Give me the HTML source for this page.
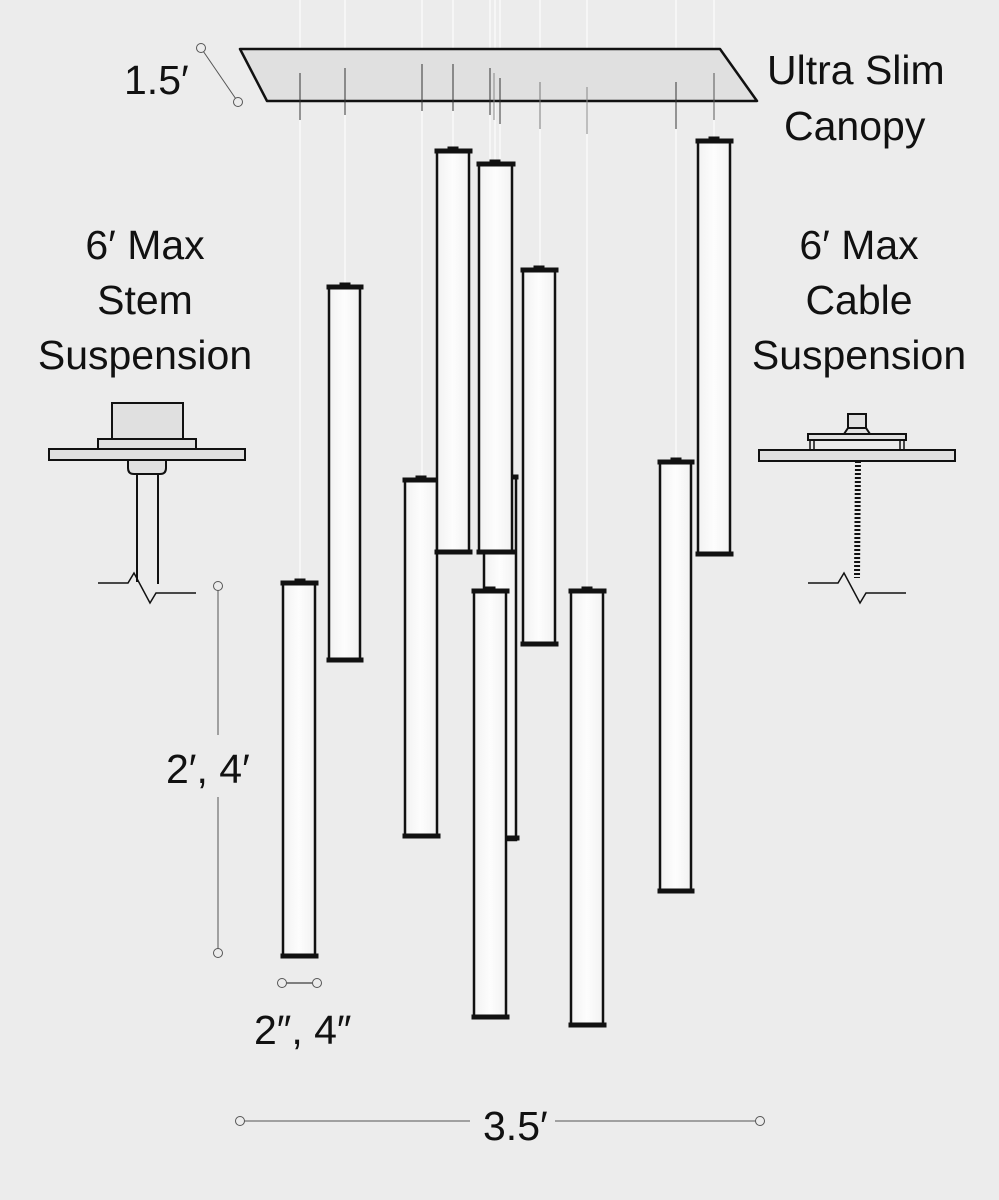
<!DOCTYPE html>
<html><head><style>
html,body{margin:0;padding:0;background:#ececec;}
svg{display:block;}
text{font-family:"Liberation Sans",sans-serif;fill:#111;}
</style></head><body>
<svg width="999" height="1200" viewBox="0 0 999 1200" xmlns="http://www.w3.org/2000/svg">
<defs>
<linearGradient id="g" x1="0" x2="1"><stop offset="0" stop-color="#f2f2f2"/><stop offset="0.5" stop-color="#fdfdfd"/><stop offset="1" stop-color="#f2f2f2"/></linearGradient>
</defs>
<rect width="999" height="1200" fill="#ececec"/>
<g stroke="#fafafa" stroke-width="1.5">
<line x1="300" y1="0" x2="300" y2="583"/>
<line x1="345" y1="0" x2="345" y2="287"/>
<line x1="422" y1="0" x2="422" y2="480"/>
<line x1="453" y1="0" x2="453" y2="151"/>
<line x1="495" y1="0" x2="495" y2="164"/>
<line x1="490" y1="0" x2="490" y2="590"/>
<line x1="500" y1="0" x2="500" y2="476"/>
<line x1="540" y1="0" x2="540" y2="270"/>
<line x1="587" y1="0" x2="587" y2="590"/>
<line x1="676" y1="0" x2="676" y2="462"/>
<line x1="714" y1="0" x2="714" y2="141"/>
</g>
<polygon points="240,49 720,49 757,101 267,101" fill="#e0e0e0" stroke="#111" stroke-width="2.5" stroke-linejoin="round"/>
<g stroke="#333" stroke-width="1">
<line x1="300" y1="73" x2="300" y2="120"/>
<line x1="345" y1="68" x2="345" y2="115"/>
<line x1="422" y1="64" x2="422" y2="111"/>
<line x1="453" y1="64" x2="453" y2="111"/>
<line x1="490" y1="68" x2="490" y2="115"/>
<line x1="494" y1="73" x2="494" y2="120" stroke="#888"/>
<line x1="500" y1="78" x2="500" y2="124"/>
<line x1="540" y1="82" x2="540" y2="129" stroke="#777"/>
<line x1="587" y1="87" x2="587" y2="134" stroke="#888"/>
<line x1="676" y1="82" x2="676" y2="129"/>
<line x1="714" y1="73" x2="714" y2="120" stroke="#555"/>
</g>
<g stroke="#111">
<g><rect x="484" y="476" width="32" height="364" fill="url(#g)" stroke-width="2.5"/><rect x="481" y="836" width="38" height="4" fill="#111"/><rect x="510" y="475" width="8" height="4" fill="#111"/></g>
<g><rect x="283" y="584" width="32" height="372" fill="url(#g)" stroke-width="2.5"/><rect x="281" y="581" width="37" height="4" fill="#111"/><rect x="295" y="579" width="10" height="3" fill="#111"/><rect x="281" y="954" width="37" height="4" fill="#111"/></g>
<g><rect x="329" y="288" width="31" height="372" fill="url(#g)" stroke-width="2.5"/><rect x="327" y="285" width="36" height="4" fill="#111"/><rect x="340" y="283" width="10" height="3" fill="#111"/><rect x="327" y="658" width="36" height="4" fill="#111"/></g>
<g><rect x="405" y="481" width="32" height="355" fill="url(#g)" stroke-width="2.5"/><rect x="403" y="478" width="37" height="4" fill="#111"/><rect x="416" y="476" width="10" height="3" fill="#111"/><rect x="403" y="834" width="37" height="4" fill="#111"/></g>
<g><rect x="437" y="152" width="32" height="400" fill="url(#g)" stroke-width="2.5"/><rect x="435" y="149" width="37" height="4" fill="#111"/><rect x="448" y="147" width="10" height="3" fill="#111"/><rect x="435" y="550" width="37" height="4" fill="#111"/></g>
<g><rect x="479" y="165" width="33" height="387" fill="url(#g)" stroke-width="2.5"/><rect x="477" y="162" width="38" height="4" fill="#111"/><rect x="490" y="160" width="10" height="3" fill="#111"/><rect x="477" y="550" width="38" height="4" fill="#111"/></g>
<g><rect x="523" y="271" width="32" height="373" fill="url(#g)" stroke-width="2.5"/><rect x="521" y="268" width="37" height="4" fill="#111"/><rect x="534" y="266" width="10" height="3" fill="#111"/><rect x="521" y="642" width="37" height="4" fill="#111"/></g>
<g><rect x="474" y="591" width="32" height="426" fill="url(#g)" stroke-width="2.5"/><rect x="472" y="589" width="37" height="4" fill="#111"/><rect x="485" y="587" width="10" height="3" fill="#111"/><rect x="472" y="1015" width="37" height="4" fill="#111"/></g>
<g><rect x="571" y="591" width="32" height="434" fill="url(#g)" stroke-width="2.5"/><rect x="569" y="589" width="37" height="4" fill="#111"/><rect x="582" y="587" width="10" height="3" fill="#111"/><rect x="569" y="1023" width="37" height="4" fill="#111"/></g>
<g><rect x="660" y="463" width="31" height="428" fill="url(#g)" stroke-width="2.5"/><rect x="658" y="460" width="36" height="4" fill="#111"/><rect x="671" y="458" width="10" height="3" fill="#111"/><rect x="658" y="889" width="36" height="4" fill="#111"/></g>
<g><rect x="698" y="142" width="32" height="412" fill="url(#g)" stroke-width="2.5"/><rect x="696" y="139" width="37" height="4" fill="#111"/><rect x="709" y="137" width="10" height="3" fill="#111"/><rect x="696" y="552" width="37" height="4" fill="#111"/></g>
</g>
<g stroke="#555" stroke-width="1" fill="#ececec">
<line x1="201" y1="48" x2="238" y2="102"/>
<circle cx="201" cy="48" r="4.5"/><circle cx="238" cy="102" r="4.5"/>
<line x1="218" y1="590" x2="218" y2="735"/>
<line x1="218" y1="797" x2="218" y2="949"/>
<circle cx="218" cy="586" r="4.5"/><circle cx="218" cy="953" r="4.5"/>
<line x1="286" y1="983" x2="313" y2="983" stroke="#111"/>
<circle cx="282" cy="983" r="4.5"/><circle cx="317" cy="983" r="4.5"/>
<line x1="244" y1="1121" x2="470" y2="1121"/>
<line x1="555" y1="1121" x2="756" y2="1121"/>
<circle cx="240" cy="1121" r="4.5"/><circle cx="760" cy="1121" r="4.5"/>
</g>
<g stroke="#111" stroke-width="2" fill="#e0e0e0">
<rect x="112" y="403" width="71" height="36"/>
<rect x="98" y="439" width="98" height="10"/>
<rect x="49" y="449" width="196" height="11"/>
<path d="M128,460 v8 q0,6 6,6 h26 q6,0 6,-6 v-8 z"/>
<path d="M137,474 v108 M158,474 v110" fill="none"/>
<path d="M98,583 h30 l6,-10 l16,30 l6,-10 h40" fill="none" stroke-width="1.5"/>
</g>
<g stroke="#111" stroke-width="2" fill="#e0e0e0">
<rect x="848" y="414" width="18" height="18"/>
<path d="M844,434 l4,-6 h18 l4,6 z"/>
<rect x="808" y="434" width="98" height="6"/>
<path d="M810,440 v10 M814,440 v10 M900,440 v10 M904,440 v10" fill="none" stroke-width="1.5"/>
<rect x="759" y="450" width="196" height="11"/>
<line x1="858" y1="461" x2="857" y2="578" stroke-width="6" stroke-dasharray="2 2"/>
<path d="M808,583 h30 l6,-10 l16,30 l6,-10 h40" fill="none" stroke-width="1.5"/>
</g>
<g font-size="41">
<text x="124" y="94">1.5′</text>
<text x="767" y="84">Ultra Slim</text>
<text x="784" y="140">Canopy</text>
<text x="145" y="259" text-anchor="middle">6′ Max</text>
<text x="145" y="314" text-anchor="middle">Stem</text>
<text x="145" y="369" text-anchor="middle">Suspension</text>
<text x="859" y="259" text-anchor="middle">6′ Max</text>
<text x="859" y="314" text-anchor="middle">Cable</text>
<text x="859" y="369" text-anchor="middle">Suspension</text>
<text x="166" y="783">2′, 4′</text>
<text x="254" y="1044">2″, 4″</text>
<text x="483" y="1140">3.5′</text>
</g>
</svg>
</body></html>
